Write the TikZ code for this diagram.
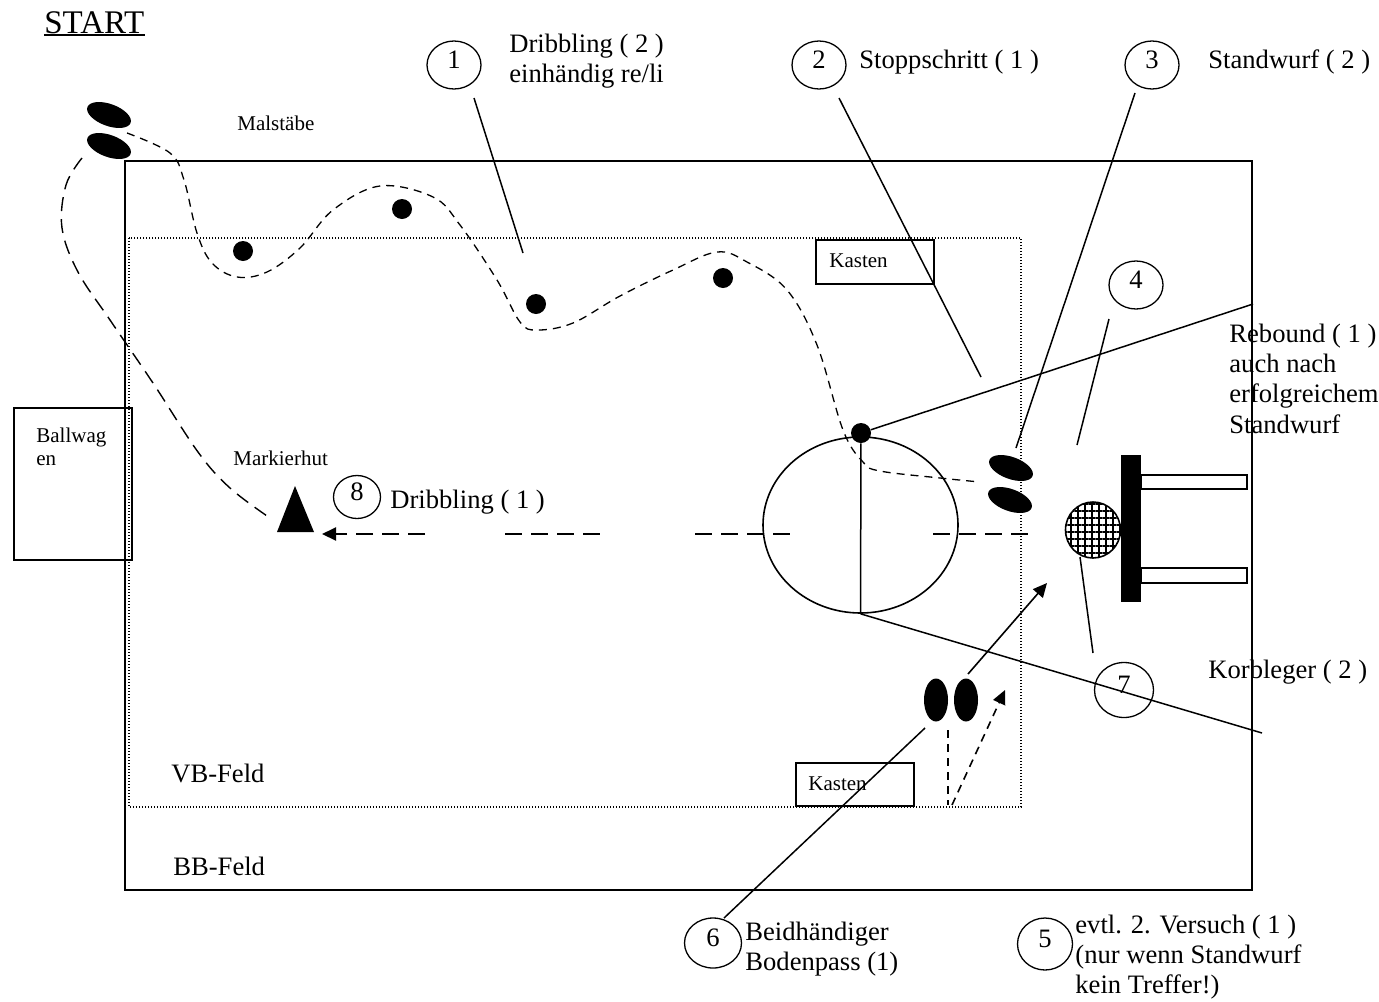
\documentclass[tikz,border=0pt]{standalone}
\usepackage{fontspec}
\setmainfont{Liberation Serif}
\usetikzlibrary{arrows.meta,shapes.geometric,patterns.meta}
\newcommand\zeilen[1]{\begin{tabular}[t]{@{}l@{}}#1\end{tabular}}

\begin{document}
\begin{tikzpicture}[x=0.5pt,y=-0.5pt,
    num/.style={draw,ellipse,line width=0.65pt,minimum width=27pt,minimum height=24pt,inner sep=0pt,text depth=5pt,font=\fontsize{13.3}{15.2}\selectfont},
    txt/.style={anchor=base west,inner sep=0pt,font=\fontsize{13.3}{15.2}\selectfont},
    klein/.style={anchor=base west,inner sep=0pt,font=\fontsize{10.5}{11.5}\selectfont},
    stab/.style={fill,ellipse,minimum width=23pt,minimum height=11pt,inner sep=0pt,rotate=-20},
    huetchen/.style={fill,circle,minimum size=10pt,inner sep=0pt},
    spieler/.style={fill,ellipse,minimum width=12pt,minimum height=21.5pt,inner sep=0pt},
    lead/.style={line width=0.75pt},
    weg/.style={dash pattern=on 4pt off 3pt,line width=0.65pt},
    lauf/.style={dash pattern=on 7pt off 4pt,line width=0.7pt},
    pass/.style={dash pattern=on 8.5pt off 4.5pt,line width=1pt}]
    \useasboundingbox (0,0) rectangle (1379,1001);
    \def\spitze{Triangle[length=7pt,width=6.5pt]}

    % Felder
    \draw[line width=1pt] (125,161) rectangle (1252,890);
    \draw[line width=0.7pt,dash pattern=on 0.7pt off 0.8pt] (129,238) rectangle (1021,807);
    \node[txt] (vb) at (171,782) {VB-Feld};
    \node[txt] (bb) at (173,875) {BB-Feld};

    % Kaesten, Ballwagen
    \draw[line width=0.8pt] (816,240) rectangle (934,284);
    \node[klein] (kasten1) at (829,267) {Kasten};
    \draw[line width=0.8pt] (796,763) rectangle (914,806);
    \node[klein] (kasten2) at (808,790) {Kasten};
    \draw[line width=0.8pt] (14,408) rectangle (132,560);
    \node[klein] (wagen) at (36,442) {\zeilen{Ballwag\\en}};

    \node[font=\fontsize{16.5}{18}\selectfont,anchor=base west,inner sep=0pt] (start) at (44,33) {START};
    \draw[line width=1pt] ([yshift=-1.2pt]start.base west) -- ([yshift=-1.2pt]start.base east);

    % Wege
    \draw[weg] plot[smooth,tension=0.6] coordinates {(127,133) (170,153) (184,180) (197,233) (212,263) (237,277) (267,272) (300,248) (333,210) (380,186) (433,197) (460,225) (497,280) (520,322) (537,330) (573,323) (620,296) (673,270) (717,252) (747,262) (787,290) (817,345) (843,430) (863,462) (880,471) (940,478) (980,482)};
    \draw[lauf] plot[smooth,tension=0.6] coordinates {(82,158) (66,185) (62,228) (78,272) (110,320) (153,383) (198,452) (230,488) (270,518)};

    % Malstaebe, Huetchen, Markierhut
    \node[stab] (m1) at (109,115) {};
    \node[stab] (m2) at (109,146) {};
    \node[stab] (m3) at (1011,468) {};
    \node[stab] (m4) at (1010,500) {};
    \node[klein] (malst) at (237,130) {Malstäbe};
    \node[klein] (hut) at (233,465) {Markierhut};
    \fill (295,486) -- (314,532) -- (277,532) -- cycle;
    \node[huetchen] (h1) at (243,251) {};
    \node[huetchen] (h2) at (402,209) {};
    \node[huetchen] (h3) at (536,304) {};
    \node[huetchen] (h4) at (723,278) {};

    % Kreis und Korb
    \node[draw,ellipse,line width=0.8pt,minimum width=97.5pt,minimum height=88pt,inner sep=0pt] (kreis) at (860.5,525) {};
    \node[huetchen] (h5) at (861,433) {};
    \coordinate (e1) at (1253,304);
    \coordinate (e2) at (1262,733);
    \draw[lead] (h5) -- (kreis.south);
    \draw[lead] (h5) -- (e1);
    \draw[lead] (kreis.south) -- (e2);
    \fill (1121,455) rectangle (1141,602);
    \draw[line width=1pt,fill=white] (1141,475) rectangle (1247,489);
    \draw[line width=1pt,fill=white] (1141,568) rectangle (1247,583);
    \node[draw,ellipse,line width=0.8pt,minimum width=27.5pt,minimum height=28pt,inner sep=0pt,
      pattern={Hatch[angle=0,distance=3.5pt,line width=0.8pt]}] (ball) at (1093,530) {};

    % Paesse
    \coordinate (p0) at (425,534);
    \coordinate (p1) at (322,534);
    \draw[pass,-{\spitze}] (p0) -- (p1);
    \draw[pass] (505,534) -- (608,534);
    \draw[pass] (695,534) -- (797,534);
    \draw[pass] (933,534) -- (1035,534);
    \node[spieler] (s1) at (936,700) {};
    \node[spieler] (s2) at (966,700) {};
    \coordinate (ziel) at (1047,583);
    \draw[line width=0.8pt,-{\spitze}] (s2) ++(2,-26) -- (ziel);
    \draw[line width=0.8pt,dash pattern=on 4pt off 3pt] (948,730) -- (948,805);
    \draw[line width=0.8pt,dash pattern=on 4pt off 3pt,-{\spitze}] (952,805) -- (1005,690);

    % Nummern
    \node[num] (n1) at (454,65) {1};
    \node[num] (n2) at (819,65) {2};
    \node[num] (n3) at (1152,65) {3};
    \node[num] (n4) at (1136,285) {4};
    \node[num,minimum width=27.5pt,minimum height=26pt] (n5) at (1045,944) {5};
    \node[num,minimum width=28.5pt,minimum height=25pt] (n6) at (713,943) {6};
    \node[num,minimum width=29.5pt,minimum height=27.5pt] (n7) at (1124,690) {7};
    \node[num,minimum width=23.5pt,minimum height=21.5pt] (n8) at (357,497) {8};
    \draw[lead] (n1) ++(20,33) -- (523,253);
    \draw[lead] (n2) ++(20,33) -- (981,377);
    \draw[lead] (n3) ++(-17,28) -- (1016,448);
    \draw[lead] (n4) ++(-27,34) -- (1077,445);
    \draw[lead] (n6) ++(11,-25) -- (925,728);
    \draw[lead] (n7) ++(-31,-37) -- (1080,557);

    % Texte
    \node[txt] (t1) at (509,52) {\zeilen{Dribbling ( 2 )\\einhändig re/li}};
    \node[txt] (t2) at (859,68) {Stoppschritt ( 1 )};
    \node[txt] (t3) at (1208,68) {Standwurf ( 2 )};
    \node[txt] (t4) at (1229,342) {\zeilen{Rebound ( 1 )\\auch nach\\erfolgreichem\\Standwurf}};
    \node[txt] (t5) at (1075,933) {\zeilen{evtl. 2. Versuch ( 1 )\\(nur wenn Standwurf\\kein Treffer!)}};
    \node[txt] (t6) at (745,940) {\zeilen{Beidhändiger\\Bodenpass (1)}};
    \node[txt] (t7) at (1208,678) {Korbleger ( 2 )};
    \node[txt] (t8) at (390,508) {Dribbling ( 1 )};
\end{tikzpicture}
\end{document}
